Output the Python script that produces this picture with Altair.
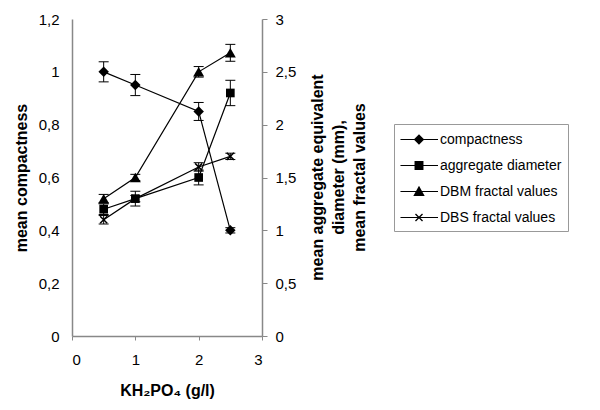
import altair as alt
import pandas as pd

# ---- data ----
kh2po4 = [0.5, 1.0, 2.0, 2.5]

compactness = [1.00, 0.95, 0.85, 0.40]
compactness_err = [0.038, 0.040, 0.034, 0.010]

aggregate_diameter = [1.20, 1.30, 1.50, 2.30]
aggregate_diameter_err = [0.05, 0.07, 0.07, 0.12]

dbm_fractal = [1.30, 1.50, 2.50, 2.68]
dbm_fractal_err = [0.04, 0.03, 0.05, 0.08]

dbs_fractal = [1.10, 1.30, 1.60, 1.70]
dbs_fractal_err = [0.04, 0.03, 0.04, 0.03]

series_names = ["compactness", "aggregate diameter", "DBM fractal values", "DBS fractal values"]

left_ticks = [0, 0.2, 0.4, 0.6, 0.8, 1.0, 1.2]
right_ticks = [0, 0.5, 1.0, 1.5, 2.0, 2.5, 3.0]
x_ticks = [0, 1, 2, 3]


def frame(name, vals, errs):
    return pd.DataFrame({
        "x": kh2po4,
        "series": name,
        "y": vals,
        "lo": [v - e for v, e in zip(vals, errs)],
        "hi": [v + e for v, e in zip(vals, errs)],
    })


df_left = frame(series_names[0], compactness, compactness_err)
df_right = pd.concat([
    frame(series_names[1], aggregate_diameter, aggregate_diameter_err),
    frame(series_names[2], dbm_fractal, dbm_fractal_err),
    frame(series_names[3], dbs_fractal, dbs_fractal_err),
], ignore_index=True)
df_all = pd.concat([df_left, df_right], ignore_index=True)

FONT = "Liberation Sans"
X_PATH = "M-1,-1L1,1M-1,1L1,-1"

xenc = alt.X("x:Q", scale=alt.Scale(domain=[0, 3], nice=False),
             axis=alt.Axis(values=x_ticks, title="KH₂PO₄ (g/l)", tickSize=4,
                           labelPadding=12, titlePadding=15, format="~g"))


def group(df, ydomain, axis):
    base = alt.Chart(df)
    sc = alt.Scale(domain=ydomain, nice=False)
    y = alt.Y("y:Q", scale=sc, axis=axis)
    rules = base.mark_rule(color="black", strokeWidth=1).encode(
        x=xenc, y=alt.Y("lo:Q", scale=sc, axis=axis), y2="hi:Q")
    cap_hi = base.mark_rule(color="black", strokeWidth=1, xOffset=-5, x2Offset=5).encode(
        x=xenc, x2="x:Q", y=alt.Y("hi:Q", scale=sc, axis=axis))
    cap_lo = base.mark_rule(color="black", strokeWidth=1, xOffset=-5, x2Offset=5).encode(
        x=xenc, x2="x:Q", y=alt.Y("lo:Q", scale=sc, axis=axis))
    lines = base.mark_line(color="black", strokeWidth=1.2).encode(
        x=xenc, y=y, detail="series:N")
    layers = [rules, cap_hi, cap_lo, lines]
    shapes = {
        series_names[0]: dict(shape="diamond", size=110, filled=True),
        series_names[1]: dict(shape="square", size=75, filled=True),
        series_names[2]: dict(shape="triangle-up", size=120, filled=True),
        series_names[3]: dict(shape=X_PATH, size=50, filled=False, strokeWidth=1.5),
    }
    for name in df["series"].unique():
        opts = shapes[name]
        layers.append(
            base.transform_filter(alt.datum.series == name)
            .mark_point(color="black", opacity=1, **opts)
            .encode(x=xenc, y=y)
        )
    return alt.layer(*layers)


left_axis = alt.Axis(values=left_ticks, title="mean compactness", orient="left",
                     format="~g", labelExpr="replace(datum.label, '.', ',')", ticks=False,
                     labelPadding=13, titlePadding=9)
right_axis = alt.Axis(values=right_ticks,
                      title=["mean aggregate equivalent", "diameter (mm),", "mean fractal values"],
                      orient="right", format="~g", labelExpr="replace(datum.label, '.', ',')",
                      tickSize=5, labelPadding=8, titleAngle=270,
                      titleX=55, titleY=158, titleAlign="center", titleBaseline="middle",
                      titleLineHeight=21)

left_group = group(df_left, [0, 1.2], left_axis)
right_group = group(df_right, [0, 3], right_axis)

# legend paths (line + marker), in symbol units (1 unit = 9.5 px)
t = 0.055
L, R, M = -0.95, 3.0, 1.0
line = f"M{L},{-t}H{R}V{t}H{L}Z"
d = 0.55
diamond = f"M{M},{-d}L{M+d},0L{M},{d}L{M-d},0Z"
s = 0.47
square = f"M{M-s},{-s}H{M+s}V{s}H{M-s}Z"
h = 0.6
triangle = f"M{M},{-h}L{M+h},{h*0.8}L{M-h},{h*0.8}Z"
a, e = 0.42, 0.1
xmark = (f"M{M-a+e},{-a}L{M+a},{a-e}L{M+a-e},{a}L{M-a},{-a+e}Z"
         f"M{M-a},{a-e}L{M+a-e},{-a}L{M+a},{-a+e}L{M-a+e},{a}Z")
legend_paths = [line + diamond, line + square, line + triangle, line + xmark]

legend_layer = alt.Chart(df_all).transform_filter("datum.x < 0").mark_point(
    filled=True, color="black").encode(
    shape=alt.Shape("series:N",
                    scale=alt.Scale(domain=series_names, range=legend_paths),
                    legend=alt.Legend(title=None, orient="none", legendX=322, legendY=105,
                                      symbolSize=361, symbolFillColor="black",
                                      symbolStrokeWidth=0, symbolOpacity=1,
                                      labelOffset=21, rowPadding=9, padding=6,
                                      strokeColor="#999999", fillColor="white",
                                      labelFont=FONT, labelFontSize=14,
                                      labelColor="black"))
)

chart = alt.layer(left_group, right_group, legend_layer).resolve_scale(
    y="independent", shape="independent"
).properties(
    width=190, height=317,
    padding={"left": 64, "top": 11, "right": 330, "bottom": 66},
    autosize=alt.AutoSizeParams(type="none"),
).configure_view(stroke=None).configure_axis(
    grid=False, labelFont=FONT, labelFontSize=15, labelColor="black",
    titleFont=FONT, titleFontSize=16, titleFontWeight="bold", titleColor="black",
    domainColor="#888888", tickColor="#888888", domainWidth=1.5,
)

chart.save("out.html", embed_options={"renderer": "svg", "actions": False})
